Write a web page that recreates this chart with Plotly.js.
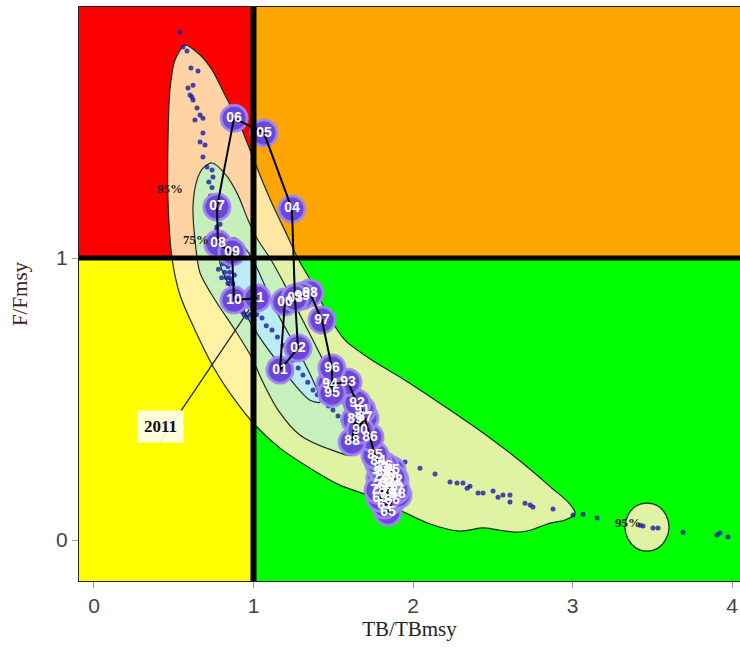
<!DOCTYPE html>
<html><head><meta charset="utf-8">
<script src="https://cdn.plot.ly/plotly-3.0.1.min.js"></script>
<style>html,body{margin:0;padding:0;background:#fff}</style>
</head><body><div id="chart" style="width:740px;height:648px"></div>
<script>
// axis extents
var X_RANGE = [-0.094, 4.05];
var Y_RANGE = [-0.145, 1.89];
var xTicks = [0, 1, 2, 3, 4];
var yTicks = [0, 1];

// trajectory (years 1965-2011)
var years = [1965,1966,1967,1968,1969,1970,1971,1972,1973,1974,1975,1976,1977,1978,1979,1980,1981,1982,1983,1984,1985,1986,1987,1988,1989,1990,1991,1992,1993,1994,1995,1996,1997,1998,1999,2000,2001,2002,2003,2004,2005,2006,2007,2008,2009,2010,2011];
var trajX = [1.843,1.868,1.824,1.906,1.793,1.856,1.806,1.887,1.843,1.793,1.868,1.824,1.893,1.781,1.843,1.812,1.875,1.837,1.799,1.781,1.762,1.730,1.699,1.618,1.636,1.668,1.680,1.649,1.592,1.480,1.492,1.492,1.429,1.354,1.304,1.197,1.166,1.279,1.260,1.241,1.066,0.878,0.771,0.777,0.865,0.878,1.022];
var trajY = [0.099,0.142,0.124,0.160,0.149,0.184,0.195,0.213,0.230,0.220,0.248,0.262,0.177,0.177,0.160,0.241,0.220,0.202,0.255,0.277,0.301,0.365,0.433,0.348,0.426,0.390,0.461,0.486,0.560,0.553,0.521,0.610,0.780,0.876,0.865,0.844,0.603,0.681,0.858,1.174,1.443,1.496,1.181,1.050,1.021,0.851,0.858];

// bootstrap points of the final year
var dotsX = [0.539,0.558,0.583,0.608,0.652,0.589,0.621,0.602,0.614,0.621,0.646,0.665,0.683,0.633,0.683,0.665,0.696,0.683,0.708,0.740,0.746,
0.72,0.74,0.73,0.76,0.75,0.78,0.76,0.79,0.77,0.80,0.78,0.81,0.79,0.82,0.80,0.83,0.81,0.84,0.82,0.85,0.83,0.86,0.84,0.87,0.85,0.88,0.89,0.87,0.90,0.92,0.91,0.93,0.95,0.94,0.96,0.98,0.80,0.78,0.88,0.86,
0.75,0.77,0.79,0.81,0.83,0.85,0.87,0.89,0.91,0.93,0.76,0.82,0.84,0.90,
0.997,1.02,1.053,1.08,1.116,1.15,1.185,1.21,1.248,1.28,1.310,1.34,1.373,1.40,1.436,1.47,1.498,1.53,1.561,1.60,1.636,1.68,1.730,1.79,1.856,1.950,2.044,2.138,
2.232,2.276,2.313,2.339,2.357,2.408,2.439,2.502,2.533,2.564,2.608,2.608,2.702,2.734,2.752,2.878,3.003,3.066,3.154,3.423,3.442,3.505,3.536,3.693,3.906,3.925,3.975];
var dotsY = [1.801,1.748,1.734,1.674,1.663,1.603,1.613,1.578,1.571,1.560,1.532,1.507,1.496,1.489,1.443,1.411,1.401,1.358,1.323,1.312,1.287,
1.27,1.25,1.22,1.21,1.18,1.16,1.14,1.12,1.10,1.09,1.07,1.06,1.04,1.03,1.01,1.00,0.98,0.97,0.95,0.95,0.93,0.92,0.91,0.90,0.88,0.89,0.87,0.86,0.85,0.86,0.83,0.82,0.83,0.80,0.79,0.80,0.93,0.96,0.94,1.02,
1.15,1.11,1.05,1.02,0.98,0.93,0.91,0.88,0.84,0.81,1.19,1.08,0.99,0.89,
0.826,0.80,0.787,0.76,0.745,0.72,0.691,0.67,0.638,0.61,0.585,0.56,0.532,0.515,0.496,0.475,0.461,0.44,0.426,0.405,0.390,0.372,0.355,0.325,0.294,0.277,0.255,0.234,
0.206,0.202,0.202,0.184,0.191,0.167,0.167,0.174,0.152,0.160,0.160,0.135,0.131,0.124,0.117,0.110,0.089,0.092,0.078,0.053,0.050,0.043,0.043,0.028,0.018,0.025,0.011];

// confidence contours
var c95x = [0.571,0.665,0.740,0.821,0.915,0.991,1.053,1.135,1.210,1.273,1.367,1.467,1.574,1.762,1.950,2.232,2.483,2.702,2.871,2.972,3.016,2.953,2.859,2.734,2.652,2.545,2.439,2.295,2.107,1.918,1.730,1.542,1.354,1.166,1.009,0.884,0.759,0.633,0.539,0.489,0.464,0.464,0.476,0.508];
var c95y = [1.755,1.720,1.667,1.578,1.472,1.365,1.277,1.170,1.082,1.004,0.911,0.798,0.709,0.631,0.567,0.461,0.362,0.266,0.184,0.135,0.096,0.071,0.060,0.035,0.028,0.035,0.043,0.032,0.057,0.106,0.156,0.195,0.255,0.326,0.408,0.496,0.603,0.745,0.869,1.000,1.206,1.418,1.596,1.702];
var ringX = [3.605,3.586,3.536,3.467,3.398,3.348,3.329,3.348,3.398,3.467,3.536,3.586];
var ringY = [0.046,0.089,0.121,0.131,0.121,0.089,0.046,0.004,-0.028,-0.039,-0.028,0.004];
var c75x = [0.740,0.828,0.903,0.966,1.028,1.103,1.197,1.292,1.404,1.511,1.592,1.636,1.618,1.492,1.292,1.154,1.053,0.991,0.884,0.759,0.665,0.633,0.621,0.646,0.683];
var c75y = [1.337,1.294,1.223,1.135,1.064,1.000,0.904,0.798,0.674,0.550,0.443,0.355,0.301,0.319,0.372,0.461,0.567,0.645,0.745,0.851,0.947,1.064,1.188,1.277,1.319];
var cInX = [0.884,0.966,1.028,1.091,1.166,1.260,1.342,1.404,1.417,1.354,1.260,1.166,1.072,0.991,0.915,0.840,0.790,0.803];
var cInY = [1.071,1.021,0.957,0.876,0.787,0.691,0.603,0.525,0.489,0.496,0.550,0.621,0.691,0.762,0.840,0.911,0.982,1.046];

// labels
var pctLabels = ['95%', '75%', '95%'];
var pctX = [0.476, 0.639, 3.348];
var pctY = [1.248, 1.064, 0.064];
var lastLabel = '2011';
var lastLabelX = [0.414, 1.022];
var lastLabelY = [0.348, 0.858];
var lastBoxX = 0.414, lastBoxY = 0.404;

var yearLabels = years.map(function(y){ return String(y).slice(2); });

function poly(x, y, fill){
  return {x: x.concat([x[0]]), y: y.concat([y[0]]), mode: 'lines', fill: 'toself', fillcolor: fill,
    line: {color: '#1f2a1f', width: 1.2, shape: 'spline', smoothing: 0.8}, hoverinfo: 'skip', showlegend: false};
}

var traces = [
  poly(c95x, c95y, 'rgba(255,240,185,0.88)'),
  poly(ringX, ringY, 'rgba(255,240,185,0.88)'),
  poly(c75x, c75y, 'rgba(196,240,190,0.95)'),
  poly(cInX, cInY, 'rgba(185,235,245,0.95)'),
  {x: dotsX, y: dotsY, mode: 'markers', marker: {size: 5, color: 'rgba(28,28,165,0.8)'}, showlegend: false, hoverinfo: 'skip'},
  {x: lastLabelX, y: lastLabelY, mode: 'lines', line: {color: '#222', width: 1.3}, showlegend: false, hoverinfo: 'skip'},
  {x: trajX, y: trajY, mode: 'markers', marker: {size: 26, color: '#6b46d8', line: {color: 'rgba(160,135,240,0.9)', width: 3}}, showlegend: false, hoverinfo: 'skip'},
  {x: trajX, y: trajY, mode: 'lines', line: {color: '#000', width: 2}, showlegend: false, hoverinfo: 'skip'},
  {x: trajX, y: trajY, mode: 'text', text: yearLabels, textposition: 'middle center',
    textfont: {family: 'Liberation Sans, Arial, sans-serif', size: 14, color: '#ffffff', weight: 'bold'}, showlegend: false, hoverinfo: 'skip'}
];

var shapes = [
  {type: 'rect', xref: 'x', yref: 'y', x0: X_RANGE[0], x1: 1, y0: 1, y1: Y_RANGE[1], fillcolor: '#ff0000', line: {width: 0}, layer: 'below'},
  {type: 'rect', xref: 'x', yref: 'y', x0: 1, x1: X_RANGE[1], y0: 1, y1: Y_RANGE[1], fillcolor: '#ffa500', line: {width: 0}, layer: 'below'},
  {type: 'rect', xref: 'x', yref: 'y', x0: X_RANGE[0], x1: 1, y0: Y_RANGE[0], y1: 1, fillcolor: '#ffff00', line: {width: 0}, layer: 'below'},
  {type: 'rect', xref: 'x', yref: 'y', x0: 1, x1: X_RANGE[1], y0: Y_RANGE[0], y1: 1, fillcolor: '#00ff00', line: {width: 0}, layer: 'below'},
  {type: 'line', xref: 'x', yref: 'paper', x0: 1, x1: 1, y0: 0, y1: 1, line: {color: '#000', width: 6}, layer: 'above'},
  {type: 'line', xref: 'paper', yref: 'y', x0: 0, x1: 1, y0: 1, y1: 1, line: {color: '#000', width: 5}, layer: 'above'}
];

var annotations = pctLabels.map(function(t, i){
  return {x: pctX[i], y: pctY[i], text: '<b>' + t + '</b>', showarrow: false,
    font: {family: 'Liberation Serif, Times New Roman, serif', size: 13, color: '#222'}};
});
annotations.push({x: lastBoxX, y: lastBoxY, text: '<b>' + lastLabel + '</b>', showarrow: false,
  font: {family: 'Liberation Serif, Times New Roman, serif', size: 17, color: '#111'},
  bgcolor: 'rgba(255,255,238,0.92)', borderpad: 6});

var tickFont = {family: 'Liberation Sans, Arial, sans-serif', size: 21, color: '#444'};
var titleFont = {family: 'Liberation Serif, Times New Roman, serif', size: 21, color: '#222'};

var layout = {
  width: 740, height: 648,
  margin: {l: 79, r: 0, t: 7, b: 67, pad: 0},
  paper_bgcolor: '#fff', plot_bgcolor: '#fff',
  showlegend: false,
  xaxis: {range: X_RANGE, tickvals: xTicks, ticktext: xTicks.map(String), ticks: 'outside', ticklen: 6, tickcolor: '#999',
    showgrid: false, zeroline: false, showline: true, linecolor: '#222', linewidth: 1, mirror: true,
    tickfont: tickFont, title: {text: 'TB/TBmsy', font: titleFont, standoff: 4}},
  yaxis: {range: Y_RANGE, tickvals: yTicks, ticktext: yTicks.map(String), ticks: 'outside', ticklen: 6, tickcolor: '#999',
    showgrid: false, zeroline: false, showline: true, linecolor: '#222', linewidth: 1, mirror: true,
    tickfont: tickFont, title: {text: 'F/Fmsy', font: {family: titleFont.family, size: 21, color: '#3a2626'}, standoff: 22}},
  shapes: shapes,
  annotations: annotations
};

Plotly.newPlot('chart', traces, layout, {staticPlot: true, displayModeBar: false});
</script></body></html>
